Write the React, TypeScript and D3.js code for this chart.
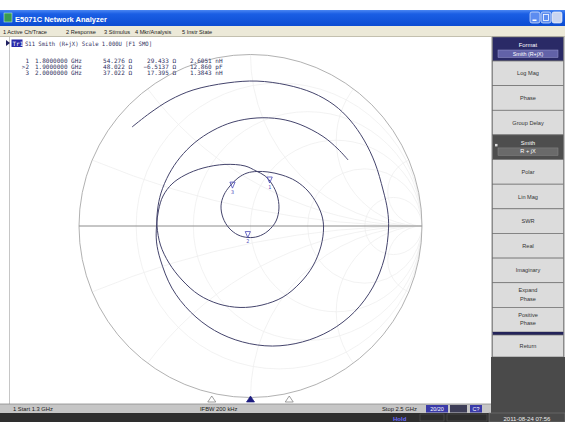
import * as d3 from "d3";

// reflection coefficient of trace 1 (S11), 1.3 -> 2.5 GHz
const traceRe = [
  -0.691, -0.586, -0.469, -0.335, -0.137, 0.038, 0.213, 0.364, 0.487, 0.58,
  0.662, 0.726, 0.773, 0.799, 0.805,
  0.781, 0.714, 0.606, 0.466, 0.303, 0.128, -0.047, -0.21, -0.35, -0.458,
  -0.525, -0.548, -0.548,
  -0.536, -0.51, -0.458, -0.382, -0.277, -0.149, -0.032, 0.032,
  0.085, 0.125, 0.155, 0.166, 0.149, 0.102, 0.044, -0.015, -0.073, -0.125,
  -0.16, -0.172, -0.155, -0.12, -0.073, -0.02,
  0.038, 0.102, 0.184, 0.265, 0.335, 0.388, 0.417,
  0.426, 0.411, 0.364, 0.289, 0.19, 0.067, -0.061, -0.184, -0.3, -0.399,
  -0.475, -0.525, -0.545,
  -0.542, -0.522, -0.475, -0.411, -0.324, -0.219, -0.102, 0.038, 0.172, 0.289,
  0.423, 0.51, 0.569,
];
const traceIm = [
  0.577, 0.659, 0.735, 0.793, 0.834, 0.845, 0.822, 0.776, 0.706, 0.618,
  0.501, 0.367, 0.21, 0.093, -0.012,
  -0.187, -0.356, -0.501, -0.609, -0.676, -0.7, -0.676, -0.609, -0.501, -0.362,
  -0.198, -0.093, 0,
  0.093, 0.175, 0.245, 0.297, 0.338, 0.359, 0.35, 0.321,
  0.292, 0.245, 0.181, 0.105, 0.029, -0.029, -0.061, -0.067, -0.052, -0.012,
  0.047, 0.117, 0.181, 0.233, 0.28, 0.309,
  0.318, 0.315, 0.297, 0.262, 0.204, 0.128, 0.058,
  -0.012, -0.117, -0.233, -0.332, -0.414, -0.461, -0.475, -0.455, -0.402, -0.315,
  -0.216, -0.111, 0,
  0.093, 0.192, 0.303, 0.399, 0.487, 0.557, 0.606, 0.63, 0.624, 0.592,
  0.522, 0.449, 0.385,
];

const Z0 = 50;
const sweepGHz = [1.3, 2.5];
const markerLabels = ["1", ">2", "3"];
const markerFreqGHz = [1.8, 1.9, 2.0];
const markerFreqText = ["1.8000000 GHz", "1.9000000 GHz", "2.0000000 GHz"];
const markerR = [54.276, 48.022, 37.022];
const markerX = [29.433, -6.5137, 17.395];
const markerEq = ["2.6051 nH", "12.860 pF", "1.3843 nH"];

const gridR = [0.2, 0.5, 1, 2, 5];
const gridX = [0.2, 0.5, 1, 2, 5];

const menuItems = ["1 Active Ch/Trace", "2 Response", "3 Stimulus", "4 Mkr/Analysis", "5 Instr State"];
const menuX = [3, 66, 104, 135, 182];
const softkeys = [
  ["Log Mag"], ["Phase"], ["Group Delay"], ["Smith", "R + jX"], ["Polar"], ["Lin Mag"],
  ["SWR"], ["Real"], ["Imaginary"], ["Expand", "Phase"], ["Positive", "Phase"],
];
const SELECTED = 3;

const SANS = "'Liberation Sans', Arial, sans-serif";
const MONO = "'DejaVu Sans Mono', monospace";

export default function App() {
  const xs = d3.scaleLinear().domain([-1, 1]).range([79, 422]);
  const ys = d3.scaleLinear().domain([-1, 1]).range([397.5, 54.5]);
  const rad = (v: number) => xs(v) - xs(0);
  const fx = d3.scaleLinear().domain(sweepGHz).range([18, 483]);
  const keyBand = d3.scaleBand<number>().domain(d3.range(softkeys.length)).range([61, 332]);

  const pts: [number, number][] = traceRe.map((r, i) => [r, traceIm[i]]);
  const tracePath = d3
    .line<[number, number]>()
    .x((d) => xs(d[0]))
    .y((d) => ys(d[1]))
    .curve(d3.curveCatmullRom.alpha(0.5))(pts);

  const markers = markerFreqGHz.map((f, i) => {
    const zr = markerR[i] / Z0, zi = markerX[i] / Z0;
    const nr = zr - 1, dr = zr + 1;
    const den = dr * dr + zi * zi;
    return { f, re: (nr * dr + zi * zi) / den, im: (zi * dr - nr * zi) / den };
  });

  return (
    <svg width={565} height={422} style={{ position: "absolute", left: 0, top: 0, background: "#fff" }}>
      <defs>
        <linearGradient id="title" x1="0" y1="0" x2="0" y2="1">
          <stop offset="0" stopColor="#4a86f2" />
          <stop offset="0.25" stopColor="#1a5ee4" />
          <stop offset="1" stopColor="#0c4cd2" />
        </linearGradient>
        <clipPath id="unit">
          <circle cx={xs(0)} cy={ys(0)} r={rad(1)} />
        </clipPath>
      </defs>

      {/* title bar */}
      <rect x={0} y={10} width={565} height={16} fill="url(#title)" />
      <rect x={4} y={13} width={8} height={9} fill="#3a9a50" stroke="#cfe" strokeWidth={0.5} />
      <text x={15} y={21.5} fill="#fff" fontFamily={SANS} fontWeight="bold" fontSize={7.5}>E5071C Network Analyzer</text>
      <rect x={530} y={12} width={10} height={11} rx={2} fill="#5c8cf0" stroke="#fff" strokeWidth={0.6} />
      <rect x={541} y={12} width={10} height={11} rx={2} fill="#5c8cf0" stroke="#fff" strokeWidth={0.6} />
      <rect x={552} y={12} width={10} height={11} rx={2} fill="#c9d4f0" stroke="#fff" strokeWidth={0.6} />
      <rect x={532.5} y={19.5} width={4} height={1.5} fill="#fff" />
      <rect x={543.5} y={14.5} width={5} height={6} fill="none" stroke="#fff" strokeWidth={0.8} />

      {/* menu bar */}
      <rect x={0} y={26} width={565} height={11} fill="#ece9d8" />
      <line x1={0} x2={565} y1={36.5} y2={36.5} stroke="#a8a594" strokeWidth={0.6} />
      {menuItems.map((m, i) => (
        <text key={m} x={menuX[i]} y={33.5} fontFamily={SANS} fontSize={5.6} fill="#222">{m}</text>
      ))}

      {/* chart area */}
      <line x1={9.5} x2={9.5} y1={37} y2={404} stroke="#b8b8b8" strokeWidth={0.8} />
      <g clipPath="url(#unit)" fill="none" stroke="#efefef" strokeWidth={0.8}>
        {gridR.map((r) => (
          <circle key={"r" + r} cx={xs(r / (1 + r))} cy={ys(0)} r={rad(1 / (1 + r))} />
        ))}
        {gridX.map((x) => (
          <g key={"x" + x}>
            <circle cx={xs(1)} cy={ys(1 / x)} r={rad(1 / x)} />
            <circle cx={xs(1)} cy={ys(-1 / x)} r={rad(1 / x)} />
          </g>
        ))}
      </g>
      <circle cx={xs(0)} cy={ys(0)} r={rad(1)} fill="none" stroke="#a8a8a8" strokeWidth={0.9} />
      <line x1={xs(-1)} x2={xs(1)} y1={ys(0)} y2={ys(0)} stroke="#8c8c8c" strokeWidth={1} />

      <path d={tracePath ?? ""} fill="none" stroke="#44446c" strokeWidth={1} />

      {markers.map((m, i) => {
        const px = xs(m.re), py = ys(m.im);
        return (
          <g key={i} stroke="#4848b8" fill="none" strokeWidth={0.8}>
            <path d={`M${px},${py} L${px - 2.6},${py - 6} L${px + 2.6},${py - 6} Z`} />
            <text x={px} y={py + 5.5} textAnchor="middle" fontFamily={MONO} fontSize={5} fill="#4848b8" stroke="none">
              {markerLabels[i].replace(">", "")}
            </text>
          </g>
        );
      })}

      {/* trace header and marker readout */}
      <path d="M6,40 L10,43 L6,46 Z" fill="#202060" />
      <rect x={11.5} y={39.5} width={11} height={7.5} fill="#2828a8" />
      <text x={12.5} y={45.5} fontFamily={MONO} fontSize={6} fill="#fff">Tr1</text>
      <text x={25} y={45.5} fontFamily={MONO} fontSize={6} fill="#303060" textLength={127} lengthAdjust="spacingAndGlyphs">
        S11 Smith (R+jX) Scale 1.000U [F1 SMO]
      </text>
      {markerLabels.map((lab, i) => {
        const y = 63 + i * 6;
        return (
          <g key={lab} fontFamily={MONO} fontSize={6} fill="#303060">
            <text x={29} y={y} textAnchor="end">{lab}</text>
            <text x={35} y={y}>{markerFreqText[i]}</text>
            <text x={132} y={y} textAnchor="end">{markerR[i].toFixed(3)} Ω</text>
            <text x={176} y={y} textAnchor="end">{d3.format(".5")(markerX[i])} Ω</text>
            <text x={190} y={y}>{markerEq[i]}</text>
          </g>
        );
      })}

      {/* stimulus marker arrows */}
      {markerFreqGHz.map((f, i) => (
        <path
          key={f}
          d={`M${fx(f)},${396} L${fx(f) - 4},${402} L${fx(f) + 4},${402} Z`}
          fill={i === 1 ? "#1c1c80" : "#fff"}
          stroke={i === 1 ? "#1c1c80" : "#777"}
          strokeWidth={0.7}
        />
      ))}

      {/* softkey panel */}
      <rect x={491} y={37} width={74} height={376} fill="#c4c4c4" />
      <rect x={492.5} y={37} width={71} height={24} fill="#2a2a66" stroke="#777" strokeWidth={0.6} />
      <text x={528} y={46.5} textAnchor="middle" fontFamily={SANS} fontSize={5.8} fill="#fff">Format</text>
      <rect x={498} y={50} width={60} height={7.5} fill="#6262a8" stroke="#9a9ad0" strokeWidth={0.5} />
      <text x={528} y={55.8} textAnchor="middle" fontFamily={SANS} fontSize={5.4} fill="#fff">Smith (R+jX)</text>
      {softkeys.map((lines, i) => {
        const y0 = keyBand(i) ?? 0;
        const h = keyBand.bandwidth();
        const sel = i === SELECTED;
        return (
          <g key={i}>
            <rect x={492.5} y={y0} width={71} height={h} fill={sel ? "#4e4e4e" : "#dcdcdc"} stroke="#6e6e6e" strokeWidth={0.7} />
            {sel && <rect x={498} y={y0 + 13} width={60} height={7.5} fill="#6a6a6a" stroke="#8a8a8a" strokeWidth={0.5} />}
            {sel && <rect x={495} y={y0 + 9} width={2.5} height={2.5} fill="#ddd" />}
            {lines.length === 1 ? (
              <text x={528} y={y0 + h / 2 + 2} textAnchor="middle" fontFamily={SANS} fontSize={5.6} fill="#333">{lines[0]}</text>
            ) : (
              lines.map((l, j) => (
                <text key={l} x={528} y={y0 + (sel ? 10 : 9.5) + j * (sel ? 8 : 8.5)} textAnchor="middle" fontFamily={SANS} fontSize={5.6} fill={sel ? "#fff" : "#333"}>{l}</text>
              ))
            )}
          </g>
        );
      })}
      <rect x={492.5} y={332} width={71} height={3} fill="#24245a" />
      <rect x={492.5} y={335} width={71} height={22} fill="#dcdcdc" stroke="#6e6e6e" strokeWidth={0.7} />
      <text x={528} y={348} textAnchor="middle" fontFamily={SANS} fontSize={5.6} fill="#333">Return</text>
      <rect x={491} y={357} width={74} height={56} fill="#4a4a4a" />

      {/* status bar */}
      <rect x={0} y={404} width={491} height={9} fill="#c6c6c6" />
      <line x1={0} x2={491} y1={404} y2={404} stroke="#8a8a8a" strokeWidth={0.8} />
      <text x={13} y={411} fontFamily={SANS} fontSize={5.8} fill="#222">1  Start 1.3 GHz</text>
      <text x={200} y={411} fontFamily={SANS} fontSize={5.8} fill="#222">IFBW 200 kHz</text>
      <text x={382} y={411} fontFamily={SANS} fontSize={5.8} fill="#222">Stop 2.5 GHz</text>
      <rect x={426} y={405} width={22} height={7.5} fill="#3a3aa8" />
      <text x={437} y={411} textAnchor="middle" fontFamily={SANS} fontSize={5.4} fill="#fff">20/20</text>
      <rect x={450} y={405} width={17} height={7.5} fill="#3e3e58" />
      <rect x={470} y={405} width={12} height={7.5} fill="#3a3aa8" />
      <text x={476} y={411} textAnchor="middle" fontFamily={SANS} fontSize={5.4} fill="#fff">C?</text>

      {/* bottom strip */}
      <rect x={0} y={413} width={565} height={9} fill="#2e2e2e" />
      <text x={393} y={420.5} fontFamily={SANS} fontSize={6} fontWeight="bold" fill="#6a6aff">Hold</text>
      <rect x={420} y={414} width={24} height={7} fill="none" stroke="#555" strokeWidth={0.6} />
      <rect x={447} y={414} width={40} height={7} fill="none" stroke="#555" strokeWidth={0.6} />
      <rect x={489} y={413} width={76} height={9} fill="#4a4a4a" stroke="#777" strokeWidth={0.6} />
      <text x={527} y={420.5} textAnchor="middle" fontFamily={SANS} fontSize={6} fill="#eee">2011-08-24 07:56</text>
    </svg>
  );
}
